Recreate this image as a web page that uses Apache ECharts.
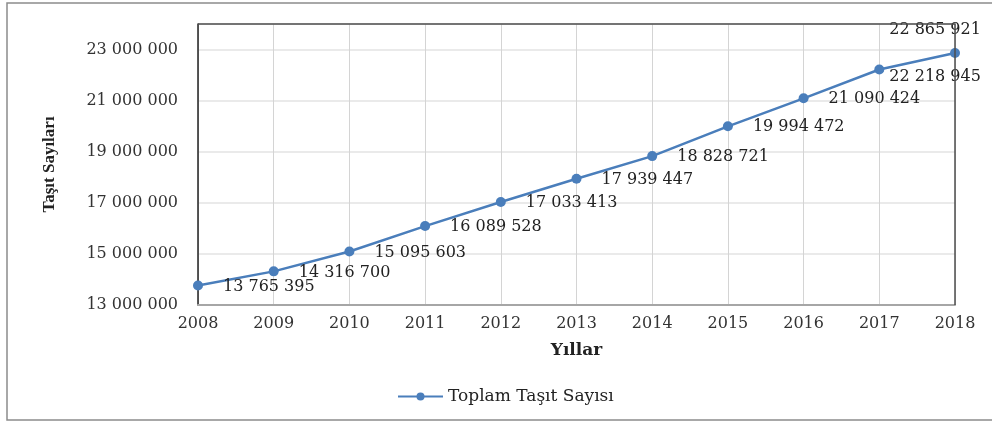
<!DOCTYPE html>
<html><head><meta charset="utf-8">
<script src="https://cdn.jsdelivr.net/npm/echarts@6/dist/echarts.min.js"></script>
<style>html,body{margin:0;padding:0;background:#fff}#c{width:992px;height:423px}</style>
</head><body><div id="c"></div>
<script>
const years = ['2008','2009','2010','2011','2012','2013','2014','2015','2016','2017','2018'];
const totals = [13765395,14316700,15095603,16089528,17033413,17939447,18828721,19994472,21090424,22218945,22865921];
const seriesName = 'Toplam Taşıt Sayısı';
const yTitle = 'Taşıt Sayıları';
const xTitle = 'Yıllar';

function fmt(v){ return String(v).replace(/\B(?=(\d{3})+(?!\d))/g,' '); }
const serif = 'DejaVu Serif';
const data = totals.map((v,i)=>{
  const d = {value:v};
  if(i===9) d.label = {position:'right', distance:5, offset:[0,7]};
  if(i===10) d.label = {position:'top', distance:10, offset:[-20,0]};
  return d;
});
const G = {left:198,right:37,top:24,bottom:118};
const chart = echarts.init(document.getElementById('c'));
chart.setOption({
  animation:false,
  backgroundColor:'#fff',
  graphic:[
    {type:'rect',shape:{x:7,y:3,width:1000,height:417},style:{fill:'none',stroke:'#8c8c8c',lineWidth:1.5},silent:true},
    {type:'polyline',z:50,shape:{points:[[G.left,G.top],[992-G.right,G.top],[992-G.right,423-G.bottom]]},style:{fill:'none',stroke:'#4d4d4d',lineWidth:1.5},silent:true}
  ],
  grid:{left:G.left,right:G.right,top:G.top,bottom:G.bottom},
  xAxis:{type:'category',data:years,boundaryGap:false,
    name:xTitle,nameLocation:'middle',nameGap:37,
    nameTextStyle:{fontFamily:serif,fontWeight:'bold',fontSize:17,color:'#222'},
    axisLine:{lineStyle:{color:'#a6a6a6',width:2}},axisTick:{show:false},
    axisLabel:{fontFamily:serif,fontSize:16,color:'#333',margin:11},
    splitLine:{show:true,lineStyle:{color:'#d4d4d4',width:1}}},
  yAxis:{type:'value',min:13000000,max:24000000,interval:2000000,
    name:yTitle,nameLocation:'middle',nameGap:140,nameRotate:90,
    nameTextStyle:{fontFamily:'Liberation Serif',fontWeight:'bold',fontSize:17,color:'#222'},
    axisLine:{show:true,lineStyle:{color:'#222',width:1.5}},axisTick:{show:false},
    axisLabel:{fontFamily:serif,fontSize:16,color:'#333',margin:20,showMaxLabel:false,formatter:v=>fmt(v)},
    splitLine:{show:true,lineStyle:{color:'#e3e3e3',width:1.5}}},
  legend:{data:[seriesName],left:392,top:383,itemWidth:45,itemHeight:10,itemGap:6,
    textStyle:{fontFamily:serif,fontSize:17,color:'#222'}},
  series:[{name:seriesName,type:'line',data:data,symbol:'circle',symbolSize:10,
    lineStyle:{color:'#4a7ebb',width:2.5},itemStyle:{color:'#4a7ebb'},
    label:{show:true,position:'right',distance:20,offset:[0,1],fontFamily:serif,fontSize:16,color:'#222',formatter:p=>fmt(p.value)}}]
});
</script></body></html>
